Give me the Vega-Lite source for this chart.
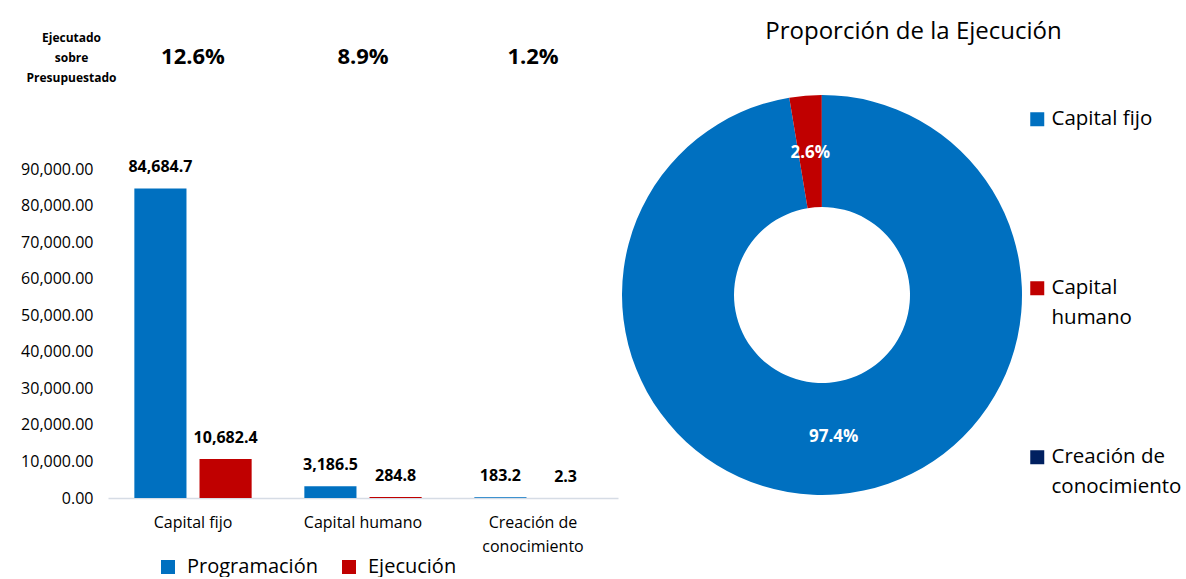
{
  "$schema": "https://vega.github.io/schema/vega-lite/v6.json",
  "background": "white",
  "padding": {"left": 20, "top": 18, "right": 0, "bottom": 0},
  "config": {"view": {"stroke": null}, "font": "Open Sans", "axis": {"labelColor": "#000", "grid": false}, "style": {"guide-label": {"lineHeight": 29.5}}},
  "resolve": {"scale": {"color": "independent", "x": "independent", "y": "independent", "theta": "independent"}, "legend": {"color": "independent"}},
  "datasets": {
    "bars": [
      {"categoria": "Capital fijo", "serie": "Programación", "valor": 84684.7},
      {"categoria": "Capital fijo", "serie": "Ejecución", "valor": 10682.4},
      {"categoria": "Capital humano", "serie": "Programación", "valor": 3186.5},
      {"categoria": "Capital humano", "serie": "Ejecución", "valor": 284.8},
      {"categoria": "Creación de conocimiento", "serie": "Programación", "valor": 183.2},
      {"categoria": "Creación de conocimiento", "serie": "Ejecución", "valor": 2.3}
    ],
    "ratios": [
      {"categoria": "Capital fijo", "fila": "Ejecutado sobre Presupuestado", "ratio": "12.6%"},
      {"categoria": "Capital humano", "fila": "Ejecutado sobre Presupuestado", "ratio": "8.9%"},
      {"categoria": "Creación de conocimiento", "fila": "Ejecutado sobre Presupuestado", "ratio": "1.2%"}
    ],
    "ejec": [
      {"categoria": "Capital fijo", "valor": 10682.4, "etiqueta": "97.4%"},
      {"categoria": "Capital humano", "valor": 284.8, "etiqueta": "2.6%"},
      {"categoria": "Creación de conocimiento", "valor": 2.3, "etiqueta": ""}
    ]
  },
  "hconcat": [
    {
      "vconcat": [
        {
          "width": 510,
          "height": 78,
          "data": {"name": "ratios"},
          "mark": {"type": "text", "fontSize": 22, "fontWeight": "bold", "color": "#000"},
          "encoding": {
            "x": {"field": "categoria", "type": "nominal", "sort": ["Capital fijo", "Capital humano", "Creación de conocimiento"], "scale": {"paddingInner": 0.31, "paddingOuter": 0.155}, "axis": null},
            "y": {"field": "fila", "type": "nominal", "axis": {"title": null, "domain": false, "ticks": false, "labelExpr": "split(datum.label, ' ')", "labelFontWeight": "bold", "labelFontSize": 12, "labelAlign": "center", "labelPadding": 37, "labelLineHeight": 20, "labelOffset": -20}},
            "text": {"field": "ratio"}
          }
        },
        {
          "width": 510,
          "height": 329,
          "data": {"name": "bars"},
          "encoding": {
            "x": {"field": "categoria", "type": "nominal", "sort": ["Capital fijo", "Capital humano", "Creación de conocimiento"], "scale": {"paddingInner": 0.31, "paddingOuter": 0.155},
              "axis": {"title": null, "labelAngle": 0, "ticks": false, "domainColor": "#D6DCE5", "domainWidth": 1.5, "labelFontSize": 16, "labelPadding": 16, "labelLineHeight": 24, "labelBaseline": "top",
                "labelExpr": "datum.label == 'Creación de conocimiento' ? ['Creación de', 'conocimiento'] : datum.label"}},
            "xOffset": {"field": "serie", "type": "nominal", "sort": ["Programación", "Ejecución"], "scale": {"paddingInner": 0.2}},
            "y": {"field": "valor", "type": "quantitative", "scale": {"domain": [0, 90000]},
              "axis": {"title": null, "values": [0, 10000, 20000, 30000, 40000, 50000, 60000, 70000, 80000, 90000], "format": ",.2f", "domain": false, "ticks": false, "labelFontSize": 16, "labelPadding": 15}}
          },
          "layer": [
            {
              "mark": {"type": "bar"},
              "encoding": {
                "color": {"field": "serie", "type": "nominal", "scale": {"domain": ["Programación", "Ejecución"], "range": ["#0070C0", "#C00000"]},
                  "legend": {"title": null, "orient": "none", "legendX": 50, "legendY": 539, "direction": "horizontal", "symbolType": "square", "symbolSize": 196, "symbolStrokeWidth": 0, "labelFontSize": 20, "labelOffset": 9, "columnPadding": 21, "labelColor": "#000"}}
              }
            },
            {
              "mark": {"type": "text", "dy": -21, "fontSize": 16, "fontWeight": "bold", "color": "#000"},
              "encoding": {"text": {"field": "valor", "type": "quantitative", "format": ",.1f"}}
            }
          ]
        }
      ],
      "spacing": 63
    },
    {
      "title": {"text": "Proporción de la Ejecución", "fontSize": 24, "fontWeight": "normal", "frame": "bounds", "anchor": "middle", "offset": -26, "dx": 12, "color": "#000"},
      "width": 402,
      "height": 554,
      "data": {"name": "ejec"},
      "encoding": {
        "theta": {"field": "valor", "type": "quantitative", "stack": true},
        "order": {"field": "categoria", "type": "ordinal", "sort": "ascending"}
      },
      "layer": [
        {
          "mark": {"type": "arc", "outerRadius": 200, "innerRadius": 88},
          "encoding": {
            "color": {"field": "categoria", "type": "nominal", "scale": {"domain": ["Capital fijo", "Capital humano", "Creación de conocimiento"], "range": ["#0070C0", "#C00000", "#002060"]},
              "legend": {"title": null, "orient": "none", "legendX": 406, "legendY": 91, "symbolType": "square", "symbolSize": 196, "symbolStrokeWidth": 0, "labelFontSize": 20.5, "labelLimit": 300, "rowPadding": 118, "labelOffset": 4, "labelColor": "#000",
                "labelExpr": "datum.label == 'Capital humano' ? ['Capital', 'humano'] : datum.label == 'Creación de conocimiento' ? ['Creación de', 'conocimiento'] : [datum.label, ' ']"}}
          }
        },
        {
          "mark": {"type": "text", "radius": 142, "fontSize": 17, "fontWeight": "bold", "color": "white"},
          "encoding": {"detail": {"field": "categoria"}, "text": {"field": "etiqueta"}}
        }
      ]
    }
  ],
  "spacing": 3
}
